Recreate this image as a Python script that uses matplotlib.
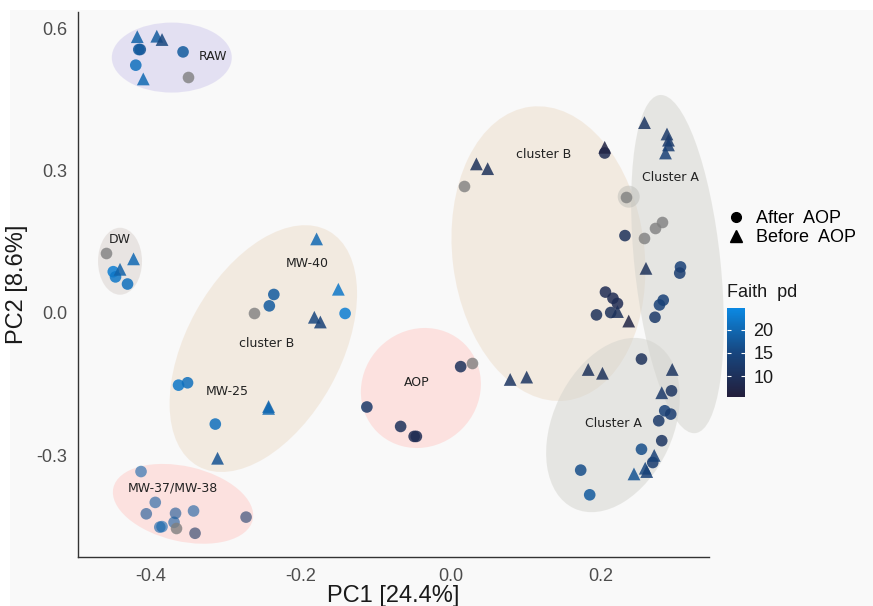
import numpy as np
import matplotlib.pyplot as plt
from matplotlib.patches import Ellipse, Rectangle
from matplotlib.transforms import ScaledTranslation
from matplotlib.colors import LinearSegmentedColormap, Normalize
from matplotlib.lines import Line2D
from matplotlib.colorbar import ColorbarBase

# sample scores (PC1, PC2), AOP status and Faith pd (nan = not available)
pc1 = [-0.418, -0.392, -0.385, -0.414, -0.416, -0.357, -0.420, -0.410, -0.350,
       -0.460, -0.423, -0.441, -0.450, -0.447, -0.431,
       -0.179, -0.150, -0.236, -0.242, -0.262, -0.182, -0.174, -0.141, -0.363,
       -0.351, -0.243, -0.243, -0.314, -0.311,
       -0.413, -0.394, -0.406, -0.367, -0.343, -0.273, -0.385, -0.388, -0.369,
       -0.366, -0.341,
       0.013, 0.028, -0.112, -0.067, -0.049, -0.046, 0.079, 0.101,
       0.034, 0.049, 0.018, 0.205, 0.205,
       0.258, 0.288, 0.290, 0.290, 0.286, 0.234, 0.281, 0.272, 0.258, 0.232,
       0.260, 0.306, 0.305, 0.283, 0.278, 0.272, 0.206, 0.216, 0.222, 0.213,
       0.194, 0.222, 0.237,
       0.254, 0.183, 0.202, 0.295, 0.281, 0.294, 0.285, 0.293, 0.277, 0.281,
       0.254, 0.271, 0.269, 0.259, 0.244, 0.261, 0.173, 0.185]
pc2 = [0.582, 0.583, 0.576, 0.555, 0.555, 0.550, 0.522, 0.493, 0.497,
       0.126, 0.114, 0.092, 0.087, 0.076, 0.061,
       0.156, 0.050, 0.039, 0.015, 0.001, -0.009, -0.019, -0.001, -0.152,
       -0.147, -0.197, -0.201, -0.234, -0.306,
       -0.334, -0.399, -0.423, -0.422, -0.417, -0.430, -0.450, -0.451, -0.441,
       -0.453, -0.464,
       -0.113, -0.105, -0.198, -0.239, -0.260, -0.260, -0.140, -0.135,
       0.314, 0.304, 0.267, 0.349, 0.337,
       0.401, 0.377, 0.364, 0.354, 0.337, 0.245, 0.192, 0.180, 0.159, 0.163,
       0.094, 0.097, 0.084, 0.027, 0.017, -0.009, 0.044, 0.031, 0.020, 0.001,
       -0.004, 0.003, -0.017,
       -0.097, -0.119, -0.127, -0.119, -0.168, -0.164, -0.206, -0.213, -0.227,
       -0.269, -0.287, -0.300, -0.315, -0.327, -0.339, -0.334, -0.331, -0.383]
aop = ["B", "B", "B", "A", "A", "A", "A", "B", "A",
       "A", "B", "B", "A", "A", "A",
       "B", "B", "A", "A", "A", "B", "B", "A", "A",
       "A", "B", "B", "A", "B",
       "A", "A", "A", "A", "A", "A", "A", "A", "A",
       "A", "A",
       "A", "A", "A", "A", "A", "A", "B", "B",
       "B", "B", "A", "B", "A",
       "B", "B", "B", "B", "B", "A", "A", "A", "A", "A",
       "B", "A", "A", "A", "A", "A", "A", "A", "A", "A",
       "A", "B", "B",
       "A", "B", "B", "B", "B", "A", "A", "A", "A", "A",
       "A", "B", "A", "B", "B", "B", "A", "A"]
nan = np.nan
faith = [19, 18, 15, 17, 18, 18, 21, 20, nan,
         nan, 20, 19, 23, 22, 21,
         20, 22, 18, 18, nan, 15, 14, 23, 22,
         21, 19, 20, 21, 17,
         19, 18, 17, 17, 18, 12, 20, 19, 18,
         nan, 11,
         10, nan, 12, 10, 9, 9, 11, 11,
         10, 10, nan, 7, 9,
         11, 12, 12, 13, 14, nan, nan, nan, nan, 10,
         10, 14, 13, 14, 14, 12, 9, 9, 9, 10,
         10, 10, 7,
         10, 10, 10, 11, 12, 11, 14, 13, 12, 11,
         16, 14, 13, 15, 17, 14, 16, 18]
group = (["RAW"] * 9 + ["DW"] * 6 + ["MW"] * 14 + ["MW37"] * 11 +
         ["AOP"] * 8 + ["B"] * 5 + ["A"] * 41)

# group labels
labels = ["RAW", "DW", "MW-40", "cluster B", "MW-25", "MW-37/MW-38", "AOP",
          "cluster B", "Cluster A", "Cluster A"]
label_x = [-0.317, -0.442, -0.192, -0.246, -0.298, -0.370, -0.045,
           0.123, 0.292, 0.216]
label_y = [0.540, 0.155, 0.104, -0.064, -0.166, -0.368, -0.146,
           0.333, 0.286, -0.233]

# ellipses: centre in data units, size in pixels, angle, colour
ellipses = [
    (-0.372, 0.538, 120, 70, 0, "#cfc9ed"),
    (-0.441, 0.109, 44, 67, 0, "#d9d1cd"),
    (-0.250, -0.075, 269, 154, 61, "#eddcc9"),
    (-0.357, -0.402, 143, 75, -13, "#ffcbc7"),
    (-0.040, -0.158, 124, 116, 45, "#ffcbc7"),
    (0.130, 0.125, 296, 192, 97, "#eddcc9"),
    (0.302, 0.103, 340, 86, 96, "#d3d3cd"),
    (0.216, -0.236, 184, 120, 65, "#d3d3cd"),
    (0.237, 0.245, 22, 22, 0, "#bdbdb8"),
]

cmap = LinearSegmentedColormap.from_list("faith", ["#231e3b", "#17467f", "#0b89e3"])
norm = Normalize(5.6, 24.6)

fig = plt.figure(figsize=(8.73, 6.06), dpi=100)
fig.patches.append(Rectangle((10 / 873, 0), 1, 1 - 10 / 606, transform=fig.transFigure,
                             facecolor="#f9f9f9", edgecolor="none", zorder=-10))
ax = fig.add_axes([78 / 873, 49 / 606, 631 / 873, 545 / 606])
ax.set_facecolor("none")
ax.set_xlim(-0.497, 0.344)
ax.set_ylim(-0.514, 0.634)

for cx, cy, w, h, ang, col in ellipses:
    tr = fig.dpi_scale_trans + ScaledTranslation(cx, cy, ax.transData)
    ax.add_patch(Ellipse((0, 0), w / 100, h / 100, angle=ang, transform=tr,
                         facecolor=col, edgecolor="none", alpha=0.5, zorder=1,
                         clip_on=False))

pc1 = np.array(pc1)
pc2 = np.array(pc2)
faith = np.array(faith, dtype=float)
aop = np.array(aop)
group = np.array(group)

for mk, sz, st in [("o", 70, "A"), ("^", 85, "B")]:
    for light in [False, True]:
        m = (aop == st) & ((group == "MW37") == light)
        al = 0.6 if light else 0.85
        ok = m & ~np.isnan(faith)
        na = m & np.isnan(faith)
        ax.scatter(pc1[ok], pc2[ok], c=faith[ok], cmap=cmap, norm=norm, marker=mk,
                   s=sz, alpha=al, linewidths=0, zorder=3)
        ax.scatter(pc1[na], pc2[na], color="#7f7f7f", marker=mk, s=sz, alpha=0.8,
                   linewidths=0, zorder=3)

for t, x, y in zip(labels, label_x, label_y):
    ax.text(x, y, t, fontsize=9, color="#222222", ha="center", va="center",
            family="DejaVu Sans", zorder=4)

for s in ["top", "right"]:
    ax.spines[s].set_visible(False)
for s in ["left", "bottom"]:
    ax.spines[s].set_color("#333333")
    ax.spines[s].set_linewidth(1.0)
ax.set_xticks([-0.4, -0.2, 0.0, 0.2])
ax.set_xticklabels(["-0.4", "-0.2", "0.0", "0.2"])
ax.set_yticks([-0.3, 0.0, 0.3, 0.6])
ax.set_yticklabels(["-0.3", "0.0", "0.3", "0.6"])
ax.tick_params(length=0, pad=8, labelsize=13, labelcolor="#4d4d4d")
for lab in ax.get_xticklabels() + ax.get_yticklabels():
    lab.set_family("Liberation Sans")
ax.set_xlabel("PC1 [24.4%]", fontsize=17, family="Liberation Sans", color="#1a1a1a",
              labelpad=0)
ax.set_ylabel("PC2 [8.6%]", fontsize=17, family="Liberation Sans", color="#1a1a1a",
              labelpad=6)

handles = [Line2D([], [], marker="o", color="black", linestyle="none", markersize=7),
           Line2D([], [], marker="^", color="black", linestyle="none", markersize=8)]
fig.legend(handles, ["After  AOP", "Before  AOP"], loc="center left",
           bbox_to_anchor=(727 / 873, 1 - 228 / 606), frameon=False,
           prop={"family": "Liberation Sans", "size": 13}, handlelength=1.0,
           handletextpad=0.6, labelspacing=0.1, borderaxespad=0, borderpad=0)

fig.text(727 / 873, 1 - 292 / 606, "Faith  pd", fontsize=13, family="Liberation Sans",
         va="center", ha="left", color="#1a1a1a")
cax = fig.add_axes([727 / 873, 1 - 397 / 606, 18 / 873, 89 / 606])
cb = ColorbarBase(cax, cmap=cmap, norm=norm, ticks=[10, 15, 20])
cb.outline.set_visible(False)
cax.tick_params(color="white", direction="in", length=3, width=0.8, left=True,
                right=True, labelsize=13, pad=6, labelcolor="#1a1a1a")
for lab in cax.get_yticklabels():
    lab.set_family("Liberation Sans")

fig.savefig("out.png", dpi=100)
